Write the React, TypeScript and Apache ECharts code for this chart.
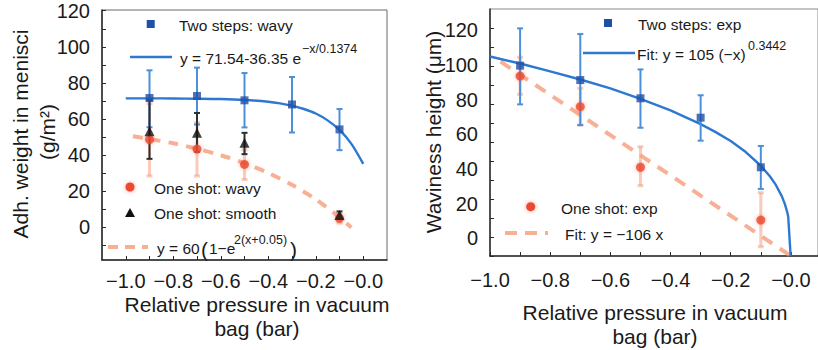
import React, { useEffect, useRef } from "react";
import * as echarts from "echarts";

const FONT = "'Liberation Sans', Arial, Helvetica, sans-serif";

// ---------- Left panel data ----------
const leftTwoStepX = [-0.9, -0.7, -0.5, -0.3, -0.1];
const leftTwoStepY = [71.7, 72.8, 70.4, 68.1, 54.3];
const leftTwoStepLo = [55.5, 57.0, 55.4, 52.6, 42.8];
const leftTwoStepHi = [87.0, 88.5, 85.5, 83.3, 65.6];

const leftOneShotX = [-0.9, -0.7, -0.5, -0.1];
const leftWavyY = [48.7, 43.4, 34.9, 5.1];
const leftWavyLo = [28.5, 28.5, 26.5, 2.5];
const leftWavyHi = [68.5, 58.0, 43.0, 7.5];
const leftSmoothY = [53.3, 52.4, 46.9, 6.9];
const leftSmoothLo = [38.0, 41.9, 40.6, 4.8];
const leftSmoothHi = [70.4, 63.4, 52.4, 8.9];

const leftBlueFitX = [-1.0, -0.9, -0.8, -0.7, -0.6, -0.5, -0.4, -0.35, -0.3, -0.25, -0.2, -0.15, -0.1, -0.05, 0.0];
const leftBlueFitY = [71.5, 71.5, 71.4, 71.3, 71.1, 70.6, 69.6, 68.7, 67.4, 65.6, 63.1, 59.3, 54.0, 46.3, 35.2];

const leftOrangeFitX = [-0.97, -0.9, -0.8, -0.7, -0.6, -0.5, -0.4, -0.3, -0.2, -0.1, -0.05];
const leftOrangeFitY = [50.5, 49.0, 46.6, 43.6, 40.0, 35.6, 30.2, 23.6, 15.6, 5.7, 0.0];

const leftXLabels = [-1.0, -0.8, -0.6, -0.4, -0.2, 0.0];
const leftXTicks = [-1.0, -0.9, -0.8, -0.7, -0.6, -0.5, -0.4, -0.3, -0.2, -0.1, 0.0];
const leftYLabels = [0, 20, 40, 60, 80, 100, 120];
const leftYTicks = [-10, 0, 10, 20, 30, 40, 50, 60, 70, 80, 90, 100, 110, 120];

// ---------- Right panel data ----------
const rightTwoStepX = [-0.9, -0.7, -0.5, -0.3, -0.1];
const rightTwoStepY = [100.2, 92.6, 83.0, 72.8, 46.7];
const rightTwoStepLo = [79.8, 68.9, 67.5, 60.7, 35.3];
const rightTwoStepHi = [119.8, 116.8, 98.2, 84.6, 57.9];

const rightOneShotX = [-0.9, -0.7, -0.5, -0.1];
const rightOneShotY = [94.7, 78.6, 46.7, 18.9];
const rightOneShotLo = [85.1, 68.9, 37.0, 4.9];
const rightOneShotHi = [104.6, 88.3, 57.5, 33.3];

const rightBlueFitX = [-1.0, -0.9, -0.8, -0.7, -0.6, -0.5, -0.4, -0.3, -0.25, -0.2, -0.15, -0.1, -0.07, -0.05, -0.03, -0.02, -0.012, -0.009, -0.001];
const rightBlueFitY = [105.0, 101.3, 97.2, 92.9, 88.2, 82.7, 76.6, 69.4, 65.2, 60.5, 54.7, 47.5, 42.0, 37.4, 31.4, 27.3, 22.9, 20.8, 0.0];

const rightOrangeFitX = [-0.965, 0.0];
const rightOrangeFitY = [102.3, 0.0];

const rightXLabels = [-1.0, -0.8, -0.6, -0.4, -0.2, 0.0];
const rightXTicks = [-1.0, -0.9, -0.8, -0.7, -0.6, -0.5, -0.4, -0.3, -0.2, -0.1, 0.0];
const rightYLabels = [0, 20, 40, 60, 80, 100, 120];
const rightYTicks = [0, 10, 20, 30, 40, 50, 60, 70, 80, 90, 100, 110, 120];

// ---------- styles ----------
const BLUE_MARK = "#1f4fa6";
const BLUE_LINE = "#2d78d0";
const BLUE_ERR = "#4a90dc";
const ORANGE_DOT = "#ea4a30";
const ORANGE_ERR = "rgba(246,150,118,0.5)";
const ORANGE_FIT = "rgba(245,150,112,0.75)";
const BLACK = "#111111";
const TEXT = "#1a1a1a";

const zip = (xs: number[], ys: number[]) => xs.map((x, i) => [x, ys[i]]);

function errorSeries(xi: number, xs: number[], lo: number[], hi: number[], color: string, width: number, cap: number, z: number) {
  return {
    type: "custom",
    xAxisIndex: xi,
    yAxisIndex: xi === 0 ? 0 : 1,
    z,
    silent: true,
    data: xs.map((x, i) => [x, lo[i], hi[i]]),
    encode: { x: 0, y: [1, 2] },
    renderItem: (params: any, api: any) => {
      const x = api.value(0);
      const a = api.coord([x, api.value(2)]);
      const b = api.coord([x, api.value(1)]);
      const st = { stroke: color, lineWidth: width };
      return {
        type: "group",
        children: [
          { type: "line", shape: { x1: a[0], y1: a[1], x2: b[0], y2: b[1] }, style: st },
          { type: "line", shape: { x1: a[0] - cap, y1: a[1], x2: a[0] + cap, y2: a[1] }, style: st },
          { type: "line", shape: { x1: b[0] - cap, y1: b[1], x2: b[0] + cap, y2: b[1] }, style: st },
        ],
      };
    },
  };
}

const minusFmt = (v: number) => "\u2212" + Math.abs(v).toFixed(1);

function txt(x: number, y: number, text: string, fontSize: number, align = "left", extra: any = {}) {
  return {
    type: "text",
    x,
    y,
    silent: true,
    ...extra,
    style: {
      text,
      fontSize,
      fontFamily: FONT,
      fill: TEXT,
      align,
      textAlign: align,
      verticalAlign: "middle",
      textVerticalAlign: "middle",
    },
  };
}

export default function App() {
  const ref = useRef<HTMLDivElement>(null);

  useEffect(() => {
    document.body.style.margin = "0";
    if (!ref.current) return;
    const chart = echarts.init(ref.current, null, { renderer: "svg" });

    const axisLine = { show: true, onZero: false, lineStyle: { color: "#2a2a2a", width: 1.5 } };
    const labelStyle = { color: TEXT, fontSize: 20, fontFamily: FONT };

    const option: any = {
      animation: false,
      backgroundColor: "#ffffff",
      grid: [
        { left: 102, top: 10, width: 285, height: 250, show: true, borderColor: "#6a6a6a", borderWidth: 1, backgroundColor: "transparent" },
        { left: 490, top: 9, width: 328, height: 247, show: true, borderColor: "#8a8a8a", borderWidth: 1, backgroundColor: "transparent" },
      ],
      xAxis: [
        {
          gridIndex: 0, type: "value", min: -1.1, max: 0.1,
          axisLine,
          splitLine: { show: false },
          axisTick: { show: true, inside: true, length: 4, customValues: leftXTicks, lineStyle: { color: "#2a2a2a" } },
          axisLabel: { ...labelStyle, margin: 11, customValues: leftXLabels, formatter: minusFmt },
        },
        {
          gridIndex: 1, type: "value", min: -1.0, max: 0.09,
          axisLine,
          splitLine: { show: false },
          axisTick: { show: true, inside: true, length: 4, customValues: rightXTicks, lineStyle: { color: "#2a2a2a" } },
          axisLabel: { ...labelStyle, margin: 14, customValues: rightXLabels, formatter: minusFmt },
        },
      ],
      yAxis: [
        {
          gridIndex: 0, type: "value", min: -18, max: 120.4,
          axisLine,
          splitLine: { show: false },
          axisTick: { show: true, inside: true, length: 4, customValues: leftYTicks, lineStyle: { color: "#2a2a2a" } },
          axisLabel: { ...labelStyle, margin: 12, customValues: leftYLabels, formatter: (v: number) => String(Math.round(v)) },
        },
        {
          gridIndex: 1, type: "value", min: 0, max: 130,
          axisLine,
          splitLine: { show: false },
          axisTick: { show: true, inside: true, length: 4, customValues: rightYTicks, lineStyle: { color: "#2a2a2a" } },
          axisLabel: { show: false },
        },
        {
          gridIndex: 1, type: "value", min: -10.2, max: 132.4, position: "left",
          axisLine: { show: false, onZero: false },
          splitLine: { show: false },
          axisTick: { show: false },
          axisLabel: { ...labelStyle, margin: 12, customValues: rightYLabels, formatter: (v: number) => String(Math.round(v)) },
        },
      ],
      series: [
        // left panel
        {
          type: "line", xAxisIndex: 0, yAxisIndex: 0, data: zip(leftOrangeFitX, leftOrangeFitY),
          smooth: 0.3, showSymbol: false, z: 2, silent: true,
          lineStyle: { color: ORANGE_FIT, width: 4, type: [10, 8] },
        },
        errorSeries(0, leftOneShotX, leftWavyLo, leftWavyHi, ORANGE_ERR, 3, 3, 3),
        {
          type: "line", xAxisIndex: 0, yAxisIndex: 0, data: zip(leftBlueFitX, leftBlueFitY),
          smooth: 0.3, showSymbol: false, z: 4, silent: true,
          lineStyle: { color: BLUE_LINE, width: 2.4 },
        },
        errorSeries(0, leftTwoStepX, leftTwoStepLo, leftTwoStepHi, BLUE_ERR, 2, 3, 5),
        errorSeries(0, leftOneShotX, leftSmoothLo, leftSmoothHi, "#2b2f36", 2, 3, 6),
        {
          type: "scatter", xAxisIndex: 0, yAxisIndex: 0, data: zip(leftOneShotX, leftWavyY),
          symbol: "circle", symbolSize: 9, z: 7, silent: true,
          itemStyle: { color: ORANGE_DOT, shadowBlur: 4, shadowColor: "rgba(240,90,60,0.6)" },
        },
        {
          type: "scatter", xAxisIndex: 0, yAxisIndex: 0, data: zip(leftOneShotX, leftSmoothY),
          symbol: "triangle", symbolSize: 10, z: 8, silent: true,
          itemStyle: { color: BLACK },
        },
        {
          type: "scatter", xAxisIndex: 0, yAxisIndex: 0, data: zip(leftTwoStepX, leftTwoStepY),
          symbol: "rect", symbolSize: 8, z: 9, silent: true,
          itemStyle: { color: BLUE_MARK },
        },
        // right panel
        {
          type: "line", xAxisIndex: 1, yAxisIndex: 1, data: zip(rightOrangeFitX, rightOrangeFitY),
          showSymbol: false, z: 2, silent: true,
          lineStyle: { color: ORANGE_FIT, width: 4, type: [12, 9] },
        },
        errorSeries(1, rightOneShotX, rightOneShotLo, rightOneShotHi, ORANGE_ERR, 3, 3, 3),
        {
          type: "line", xAxisIndex: 1, yAxisIndex: 1, data: zip(rightBlueFitX, rightBlueFitY),
          smooth: false, showSymbol: false, z: 4, silent: true,
          lineStyle: { color: BLUE_LINE, width: 2.4 },
        },
        errorSeries(1, rightTwoStepX, rightTwoStepLo, rightTwoStepHi, BLUE_ERR, 2, 3, 5),
        {
          type: "scatter", xAxisIndex: 1, yAxisIndex: 1, data: zip(rightOneShotX, rightOneShotY),
          symbol: "circle", symbolSize: 9, z: 7, silent: true,
          itemStyle: { color: ORANGE_DOT, shadowBlur: 4, shadowColor: "rgba(240,90,60,0.6)" },
        },
        {
          type: "scatter", xAxisIndex: 1, yAxisIndex: 1, data: zip(rightTwoStepX, rightTwoStepY),
          symbol: "rect", symbolSize: 8, z: 9, silent: true,
          itemStyle: { color: BLUE_MARK },
        },
      ],
      graphic: [
        // left legend
        { type: "rect", silent: true, shape: { x: 146.7, y: 20, width: 8, height: 8 }, style: { fill: BLUE_MARK } },
        txt(179, 25, "Two steps: wavy", 15.5),
        { type: "line", silent: true, shape: { x1: 130, y1: 57, x2: 172, y2: 57 }, style: { stroke: BLUE_LINE, lineWidth: 2.4 } },
        txt(180, 58, "y = 71.54-36.35 e", 15.5),
        txt(302, 49, "\u2212x/0.1374", 12.5),
        { type: "circle", silent: true, shape: { cx: 130, cy: 187, r: 4.5 }, style: { fill: ORANGE_DOT, shadowBlur: 4, shadowColor: "rgba(240,90,60,0.6)" } },
        txt(154, 188, "One shot: wavy", 15.5),
        { type: "polygon", silent: true, shape: { points: [[130, 208], [135, 217], [125, 217]] }, style: { fill: BLACK } },
        txt(154, 213, "One shot: smooth", 15.5),
        { type: "line", silent: true, shape: { x1: 108, y1: 247, x2: 148, y2: 247 }, style: { stroke: ORANGE_FIT, lineWidth: 4, lineDash: [10, 7] } },
        txt(157, 248, "y = 60", 15.5),
        txt(201, 249, "(", 21),
        txt(209, 248, "1\u2212e", 15.5),
        txt(234, 240, "2(x+0.05)", 12.5),
        txt(290, 249, ")", 21),
        // right legend
        { type: "rect", silent: true, shape: { x: 604, y: 19, width: 8, height: 8 }, style: { fill: BLUE_MARK } },
        txt(638, 24, "Two steps: exp", 15.5),
        { type: "line", silent: true, shape: { x1: 583, y1: 53, x2: 635, y2: 53 }, style: { stroke: BLUE_LINE, lineWidth: 2.4 } },
        txt(637, 54, "Fit: y = 105 (\u2212x)", 15.5),
        txt(748, 46, "0.3442", 12.5),
        { type: "circle", silent: true, shape: { cx: 530.7, cy: 206.7, r: 4.5 }, style: { fill: ORANGE_DOT, shadowBlur: 4, shadowColor: "rgba(240,90,60,0.6)" } },
        txt(561, 208, "One shot: exp", 15.5),
        { type: "line", silent: true, shape: { x1: 505, y1: 233, x2: 548, y2: 233 }, style: { stroke: ORANGE_FIT, lineWidth: 4, lineDash: [12, 8] } },
        txt(565, 234, "Fit: y = \u2212106 x", 15.5),
        // axis titles
        txt(20, 134, "Adh. weight in menisci", 21, "center", { rotation: Math.PI / 2 }),
        txt(47, 132, "(g/m\u00b2)", 21, "center", { rotation: Math.PI / 2 }),
        txt(257, 304, "Relative pressure in vacuum", 21, "center"),
        txt(257, 328, "bag (bar)", 21, "center"),
        txt(433, 132, "Waviness height (\u03bcm)", 21, "center", { rotation: Math.PI / 2 }),
        txt(655, 312, "Relative pressure in vacuum", 21, "center"),
        txt(655, 336, "bag (bar)", 21, "center"),
      ],
    };

    chart.setOption(option);
    return () => chart.dispose();
  }, []);

  return <div ref={ref} style={{ position: "absolute", left: 0, top: 0, width: 818, height: 350 }} />;
}
